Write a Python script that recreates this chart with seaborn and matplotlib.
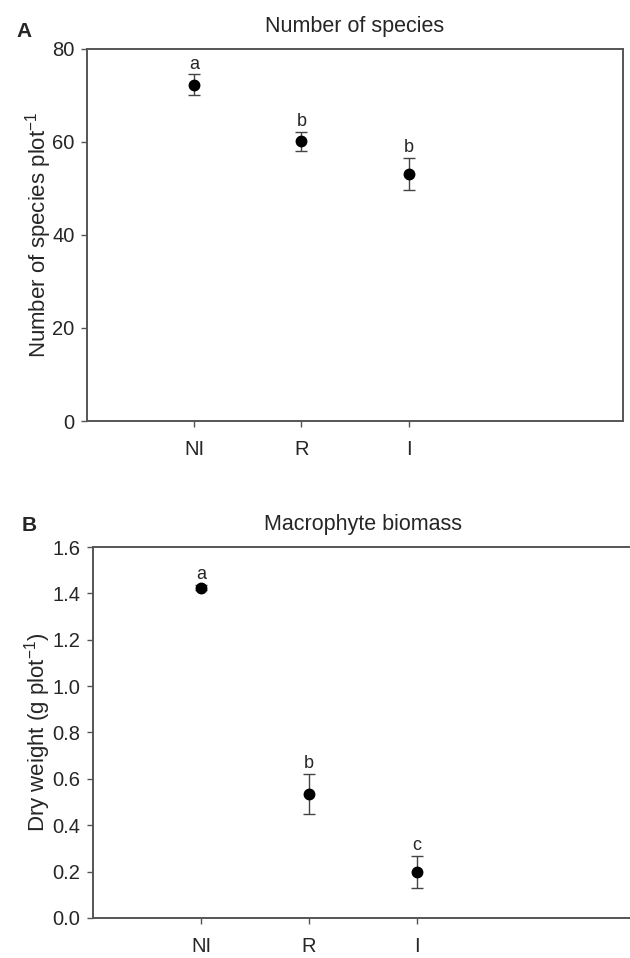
import numpy as np
import pandas as pd
import matplotlib
matplotlib.use("Agg")
import matplotlib.pyplot as plt
import seaborn as sns

sns.set_style("white")
plt.rcParams['font.family'] = ['Liberation Sans', 'DejaVu Sans']

# Дані
treatments = ["NI", "R", "I"]
species_mean = [72.3, 60.1, 53.1]
species_se = [2.2, 2.0, 3.4]
species_letters = ["a", "b", "b"]

biomass_mean = [1.425, 0.535, 0.198]
biomass_se = [0.012, 0.087, 0.068]
biomass_letters = ["a", "b", "c"]

spine_col = "#555555"
err_col = "#444444"

fig = plt.figure(figsize=(6.30, 9.58), dpi=100)
ax_a = fig.add_axes([0.138, 0.5605, 0.851, 0.3885])
ax_b = fig.add_axes([0.1476, 0.0418, 0.857, 0.3872])


def panel(ax, means, ses, letters, ylim, yticks, fmt, ylabel, title, tag, off,
          tag_y, lpad):
    df = pd.DataFrame({"treatment": treatments, "mean": means, "se": ses})
    sns.pointplot(data=df, x="treatment", y="mean", order=treatments,
                  linestyle="none", errorbar=None, color="black",
                  markers="o", markersize=6.5, ax=ax, zorder=3)
    ax.errorbar(np.arange(len(treatments)), df["mean"], yerr=df["se"],
                fmt="none", ecolor=err_col, elinewidth=1.0, capsize=4,
                capthick=1.0, zorder=2)
    for i, (m, s, l) in enumerate(zip(means, ses, letters)):
        ax.text(i, m + s + off, l, ha="center", va="bottom", fontsize=13)
    ax.set_xlim(-1, 4)
    ax.set_ylim(*ylim)
    ax.set_yticks(yticks)
    ax.set_yticklabels([fmt.format(v) for v in yticks])
    ax.set_xlabel("")
    ax.set_ylabel(ylabel, fontsize=16, labelpad=lpad)
    ax.set_title(title, fontsize=15.5, pad=12)
    ax.tick_params(axis="both", which="major", labelsize=14.5, direction="out",
                   length=4, width=1, color=spine_col, left=True, bottom=True)
    ax.tick_params(axis="y", pad=5)
    ax.tick_params(axis="x", pad=10)
    for sp in ax.spines.values():
        sp.set_color(spine_col)
        sp.set_linewidth(1.4)
    ax.text(-0.132, tag_y, tag, transform=ax.transAxes, fontsize=15,
            fontweight="bold", ha="left", va="bottom")


panel(ax_a, species_mean, species_se, species_letters, (0, 80),
      [0, 20, 40, 60, 80], "{:.0f}", "Number of species plot$^{\\mathregular{-1}}$",
      "Number of species", "A", 0.4, 1.02, -1.5)
panel(ax_b, biomass_mean, biomass_se, biomass_letters, (0, 1.6),
      [0.0, 0.2, 0.4, 0.6, 0.8, 1.0, 1.2, 1.4, 1.6], "{:.1f}",
      "Dry weight (g plot$^{\\mathregular{-1}}$)", "Macrophyte biomass", "B",
      0.008, 1.033, -0.5)

fig.savefig("out.png", dpi=100)
